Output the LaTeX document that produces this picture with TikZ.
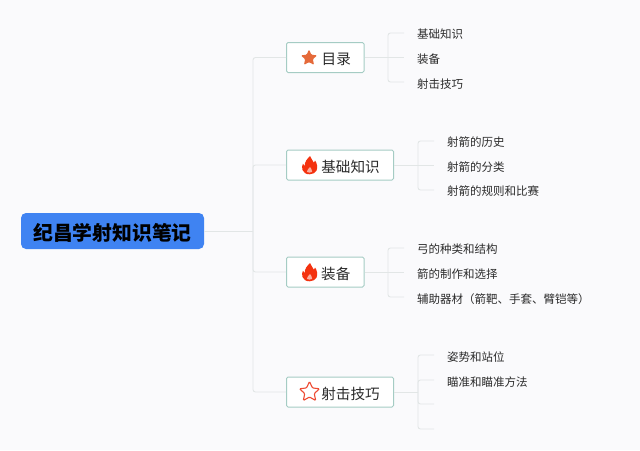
\documentclass[tikz,border=0pt]{standalone}
\usepackage{fontspec}
\setmainfont{Noto Sans CJK SC}
\usetikzlibrary{shapes.geometric}
\definecolor{bgc}{HTML}{FAFAFC}
\definecolor{linkc}{HTML}{E2E6E6}
\definecolor{edgec}{HTML}{A5CCC4}
\definecolor{rootc}{HTML}{3F83F2}
\definecolor{inkc}{HTML}{2B2B2B}
\definecolor{flamec}{HTML}{F4320F}
\definecolor{starc}{HTML}{E56A3A}
\definecolor{ostarc}{HTML}{EE4B33}
\newcommand{\flameicon}[2]{%
  \begin{scope}[shift={(#1,#2)}]
    \fill[flamec] (0.5,-9.5) .. controls (1.5,-6) and (3.8,-5) .. (4.4,-2.8)
      .. controls (5.2,-3.4) and (5.6,-4.2) .. (5.6,-5)
      .. controls (7.6,-2) and (8.4,2) .. (7,5)
      .. controls (5.8,7.5) and (3,8.8) .. (0,8.8)
      .. controls (-3.5,8.8) and (-6,7.2) .. (-7,4.5)
      .. controls (-7.8,2) and (-7.4,0) .. (-6.6,-1.8)
      .. controls (-6.2,-0.6) and (-5.6,0.2) .. (-4.8,0.5)
      .. controls (-5,-3.5) and (-2.5,-6.5) .. (0.5,-9.5) -- cycle;
    \fill[white!60!flamec] (0.5,1.5) .. controls (1,3) and (3,4) .. (2.6,6)
      .. controls (2.2,7.4) and (-2.2,7.4) .. (-2.6,6)
      .. controls (-3,4.4) and (-0.5,3.5) .. (0.5,1.5) -- cycle;
  \end{scope}}
\tikzset{
  x=1pt,y=-1pt,
  linkline/.style={draw=linkc,line width=0.9pt,rounded corners=2.5pt},
  rootbox/.style={fill=rootc,rounded corners=5pt,minimum width=183pt,minimum height=36pt,inner sep=0pt,text=black,text height=18pt,text depth=0pt,font=\fontsize{19.8}{22}\selectfont\bfseries},
  branchbox/.style={draw=edgec,fill=white,line width=1pt,rounded corners=1.5pt,minimum height=30pt,inner sep=0pt,text=inkc,text height=14pt,text depth=0pt,font=\fontsize{14.6}{17}\selectfont},
  leaf/.style={anchor=west,inner sep=0pt,yshift=-1pt,text=inkc,font=\fontsize{11.5}{14}\selectfont},
}
\begin{document}
\begin{tikzpicture}
\useasboundingbox[fill=bgc] (0,0) rectangle (640,450);
\node[rootbox] (root) at (112.5,231) {纪昌学射知识笔记};
\node[branchbox,minimum width=77.5pt] (b1) at (325.25,57.5) {\hspace*{22pt}目录};
\node[branchbox,minimum width=107pt] (b2) at (340,165) {\hspace*{21pt}基础知识};
\node[branchbox,minimum width=77.5pt] (b3) at (325.25,272) {\hspace*{21pt}装备};
\node[branchbox,minimum width=107pt] (b4) at (340,392) {\hspace*{21pt}射击技巧};
\coordinate (hub) at (253,231);
\coordinate (s1) at (388,57.5);
\coordinate (s2) at (418,165);
\coordinate (s3) at (388,272);
\coordinate (s4) at (418,392);
\node[leaf] (l11) at (417,33.5) {基础知识};
\node[leaf] (l12) at (417,58) {装备};
\node[leaf] (l13) at (417,83) {射击技巧};
\node[leaf] (l21) at (447,141) {射箭的历史};
\node[leaf] (l22) at (447,166) {射箭的分类};
\node[leaf] (l23) at (447,190.5) {射箭的规则和比赛};
\node[leaf] (l31) at (417,248.5) {弓的种类和结构};
\node[leaf] (l32) at (417,273) {箭的制作和选择};
\node[leaf] (l33) at (417,298) {辅助器材（箭靶、手套、臂铠等）};
\node[leaf] (l41) at (447,356) {姿势和站位};
\node[leaf] (l42) at (447,381) {瞄准和瞄准方法};
\coordinate (e11) at (404,33);
\coordinate (e12) at (404,57.5);
\coordinate (e13) at (404,82);
\coordinate (e21) at (434,141);
\coordinate (e22) at (434,165);
\coordinate (e23) at (434,190);
\coordinate (e31) at (404,248);
\coordinate (e32) at (404,272);
\coordinate (e33) at (404,297);
\coordinate (e41) at (434,355);
\coordinate (e42) at (434,380);
\coordinate (e43) at (434,404);
\coordinate (e44) at (434,429);
\draw[linkline] (root.east) -- (hub);
\draw[linkline] (hub) |- (b1.west);
\draw[linkline] (hub) -- (hub |- b2.west) -- (b2.west);
\draw[linkline] (hub) |- (b3.west);
\draw[linkline] (hub) |- (b4.west);
\draw[linkline] (b1.east) -- (e12);
\draw[linkline] (s1) |- (e11);
\draw[linkline] (s1) |- (e13);
\draw[linkline] (b2.east) -- (e22);
\draw[linkline] (s2) |- (e21);
\draw[linkline] (s2) |- (e23);
\draw[linkline] (b3.east) -- (e32);
\draw[linkline] (s3) |- (e31);
\draw[linkline] (s3) |- (e33);
\draw[linkline] (b4.east) -- (s4);
\draw[linkline] (s4) |- (e41);
\draw[linkline] (s4) -- (s4 |- e42) -- (e42);
\draw[linkline] (s4) |- (e43);
\draw[linkline] (s4) |- (e44);
\node[star,star points=5,star point ratio=2.1,fill=starc,rounded corners=1pt,minimum size=17pt,inner sep=0pt] (i1) at (309,58) {};
\flameicon{309.5}{165.5}
\flameicon{309.5}{272.5}
\node[star,star points=5,star point ratio=2.1,draw=ostarc,fill=white,line width=1.1pt,rounded corners=1pt,minimum size=21pt,inner sep=0pt] (i4) at (309.5,392) {};
\end{tikzpicture}
\end{document}
